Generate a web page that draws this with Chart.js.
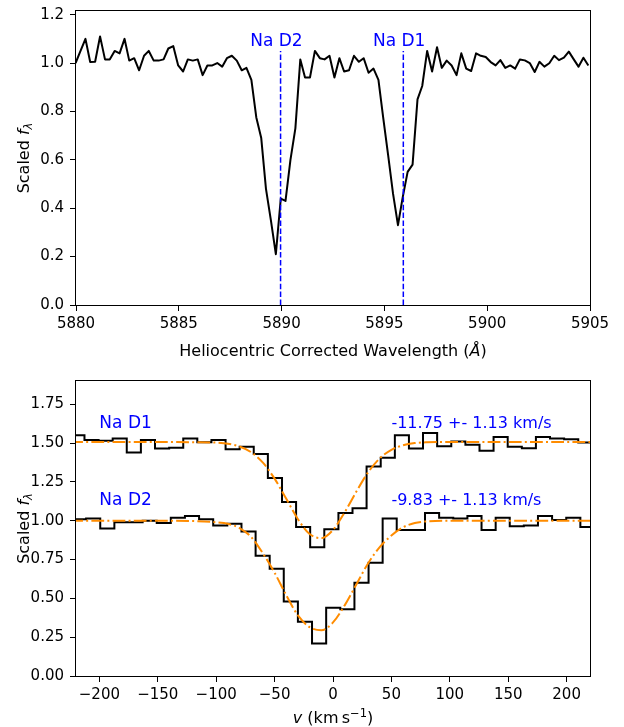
<!DOCTYPE html>
<html>
<head>
<meta charset="utf-8">
<script src="https://cdn.jsdelivr.net/npm/chart.js@4.4.1/dist/chart.umd.min.js"></script>
<style>
  html, body { margin: 0; padding: 0; background: #fff; }
  #wrap { position: relative; width: 624px; height: 727px; }
  canvas { position: absolute; left: 0; }
  #top { top: 0; }
  #bottom { top: 360px; }
</style>
</head>
<body>
<div id="wrap">
  <canvas id="top" width="624" height="360"></canvas>
  <canvas id="bottom" width="624" height="367"></canvas>
</div>
<script>
// top panel: spectrum around the Na D doublet
const wavelength = [
  5879.98, 5880.22, 5880.46, 5880.69, 5880.93, 5881.17, 5881.41, 5881.64, 5881.88, 5882.12,
  5882.36, 5882.59, 5882.83, 5883.07, 5883.31, 5883.54, 5883.78, 5884.02, 5884.26, 5884.49,
  5884.73, 5884.97, 5885.21, 5885.44, 5885.68, 5885.92, 5886.16, 5886.39, 5886.63, 5886.87,
  5887.11, 5887.34, 5887.58, 5887.82, 5888.06, 5888.29, 5888.53, 5888.77, 5889.01, 5889.24,
  5889.48, 5889.72, 5889.96, 5890.19, 5890.43, 5890.67, 5890.91, 5891.14, 5891.38, 5891.62,
  5891.86, 5892.09, 5892.33, 5892.57, 5892.81, 5893.04, 5893.28, 5893.52, 5893.76, 5893.99,
  5894.23, 5894.47, 5894.71, 5894.94, 5895.18, 5895.42, 5895.66, 5895.89, 5896.13, 5896.37,
  5896.61, 5896.84, 5897.08, 5897.32, 5897.56, 5897.79, 5898.03, 5898.27, 5898.51, 5898.74,
  5898.98, 5899.22, 5899.46, 5899.69, 5899.93, 5900.17, 5900.41, 5900.64, 5900.88, 5901.12,
  5901.36, 5901.59, 5901.83, 5902.07, 5902.31, 5902.54, 5902.78, 5903.02, 5903.26, 5903.49,
  5903.73, 5903.97, 5904.21, 5904.44, 5904.68, 5904.92
];
const flux = [
  1.00, 1.05, 1.10, 1.004, 1.005, 1.11, 1.015, 1.015, 1.05, 1.04,
  1.10, 1.01, 1.02, 0.97, 1.03, 1.05, 1.01, 1.01, 1.015, 1.06,
  1.07, 0.99, 0.965, 1.015, 1.01, 1.015, 0.95, 0.99, 0.99, 1.00,
  0.985, 1.02, 1.03, 1.01, 0.97, 0.98, 0.93, 0.775, 0.69, 0.48,
  0.35, 0.21, 0.44, 0.43, 0.60, 0.73, 1.015, 0.94, 0.94, 1.05,
  1.02, 1.015, 1.03, 0.94, 1.02, 0.965, 0.97, 1.03, 1.005, 1.02,
  0.96, 0.977, 0.93, 0.775, 0.62, 0.46, 0.33, 0.445, 0.55, 0.58,
  0.85, 0.905, 1.05, 0.965, 1.065, 0.98, 1.01, 0.99, 0.95, 1.04,
  0.977, 0.967, 1.04, 1.03, 1.025, 1.004, 0.99, 1.012, 0.98, 0.99,
  0.977, 1.015, 1.011, 1.00, 0.963, 1.005, 0.985, 0.999, 1.03, 1.012,
  1.022, 1.047, 1.015, 0.985, 1.022, 0.99
];
const lineNames = ['Na D2', 'Na D1'];
const lineWaves = [5889.95, 5895.92];
const lineTop = 1.05;
const waveTicks = [5880, 5885, 5890, 5895, 5900, 5905];
const fluxTicksTop = [0, 0.2, 0.4, 0.6, 0.8, 1.0, 1.2];

// bottom panel: velocity space, D1 shifted up by 0.5
const velD1 = [
  -230.9, -218.8, -206.7, -194.6, -182.6, -170.5, -158.4, -146.3, -134.2, -122.2,
  -110.1, -98.0, -85.9, -73.9, -61.8, -49.7, -37.6, -25.6, -13.5, -1.4,
  10.7, 22.7, 34.8, 46.9, 59.0, 71.0, 83.1, 95.2, 107.3, 119.4,
  131.4, 143.5, 155.6, 167.7, 179.7, 191.8, 203.9, 216.0, 228.0
];
const fluxD1 = [
  1.44, 1.55, 1.52, 1.515, 1.53, 1.44, 1.52, 1.465, 1.47, 1.53,
  1.505, 1.52, 1.46, 1.477, 1.43, 1.275, 1.12, 0.96, 0.83, 0.945,
  1.05, 1.08, 1.35, 1.405, 1.55, 1.465, 1.565, 1.48, 1.51, 1.49,
  1.45, 1.54, 1.477, 1.467, 1.54, 1.53, 1.525, 1.504, 1.49
];
const velD2 = [
  -229.5, -217.4, -205.3, -193.2, -181.1, -169.0, -156.9, -144.9, -132.8, -120.7,
  -108.6, -96.5, -84.4, -72.3, -60.2, -48.2, -36.1, -24.0, -11.9, 0.2,
  12.3, 24.4, 36.5, 48.5, 60.6, 72.7, 84.8, 96.9, 109.0, 121.1,
  133.2, 145.3, 157.3, 169.4, 181.5, 193.6, 205.7, 217.8, 229.9
];
const fluxD2 = [
  1.015, 1.01, 1.015, 0.95, 0.99, 0.99, 1.00, 0.985, 1.02, 1.03,
  1.01, 0.97, 0.98, 0.93, 0.775, 0.69, 0.48, 0.35, 0.21, 0.44,
  0.43, 0.60, 0.73, 1.015, 0.94, 0.94, 1.05, 1.02, 1.015, 1.03,
  0.94, 1.02, 0.965, 0.97, 1.03, 1.005, 1.02, 0.96, 0.977
];
const fitVel = [-225, -150, -120, -100, -90, -80, -70, -60, -50, -40, -30, -20, -10,
  0, 10, 20, 30, 40, 50, 60, 70, 80, 100, 150, 225];
const fitD1 = [1.507, 1.507, 1.506, 1.503, 1.496, 1.478, 1.441, 1.374, 1.271, 1.141, 1.01, 0.914, 0.888,
  0.941, 1.054, 1.188, 1.311, 1.402, 1.457, 1.486, 1.50, 1.505, 1.507, 1.507, 1.507];
const fitD2 = [1.0, 1.0, 0.998, 0.99, 0.98, 0.953, 0.895, 0.79, 0.665, 0.52, 0.39, 0.315, 0.295,
  0.345, 0.455, 0.59, 0.725, 0.83, 0.905, 0.958, 0.985, 0.996, 1.0, 1.0, 1.0];
const fitLabels = ['-11.75 +- 1.13 km/s', '-9.83 +- 1.13 km/s'];
const velTicks = [-200, -150, -100, -50, 0, 50, 100, 150, 200];
const fluxTicksBottom = [0, 0.25, 0.5, 0.75, 1.0, 1.25, 1.5, 1.75];

const FONT = '"DejaVu Sans", sans-serif';
const BLUE = '#0000ff';
const ORANGE = '#ff8c00';

Chart.defaults.color = '#000';
Chart.defaults.font.family = FONT;

function pts(xs, ys) {
  return xs.map((x, i) => ({ x: x, y: ys[i] }));
}

function axis(min, max, ticks, fmt, isX, size) {
  return {
    type: 'linear', min: min, max: max,
    afterBuildTicks: s => { s.ticks = ticks.map(v => ({ value: v })); },
    afterFit: s => {
      if (isX) { s.height = size; s.paddingLeft = 0; s.paddingRight = 0; }
      else { s.width = size; s.paddingTop = 0; s.paddingBottom = 0; }
    },
    ticks: { callback: fmt, font: { size: 15 }, color: '#000', padding: isX ? 4 : 6,
             autoSkip: false, maxRotation: 0 },
    grid: { drawOnChartArea: false, drawTicks: true, tickLength: 6, color: '#000' },
    border: { display: false }
  };
}

// mixed style text (italic / sub / superscripts)
function drawRuns(ctx, runs, x, y, align) {
  let w = 0;
  runs.forEach(r => {
    ctx.font = (r.it ? 'italic ' : '') + (r.size || 16) + 'px ' + FONT;
    r.w = ctx.measureText(r.t).width;
    w += r.w;
  });
  let cx = align === 'center' ? x - w / 2 : x;
  runs.forEach(r => {
    ctx.font = (r.it ? 'italic ' : '') + (r.size || 16) + 'px ' + FONT;
    ctx.fillText(r.t, cx, y + (r.dy || 0));
    cx += r.w;
  });
}

function drawYTitle(ctx, area) {
  ctx.save();
  ctx.translate(28.5, (area.top + area.bottom) / 2);
  ctx.rotate(-Math.PI / 2);
  ctx.textBaseline = 'alphabetic';
  ctx.textAlign = 'left';
  ctx.fillStyle = '#000';
  drawRuns(ctx, [
    { t: 'Scaled ' },
    { t: 'f', it: true },
    { t: '\u03bb', it: true, size: 11.5, dy: 3.5 }
  ], 0, 0, 'center');
  ctx.restore();
}

const framePlugin = {
  id: 'frame',
  afterDraw(chart) {
    const a = chart.chartArea, ctx = chart.ctx;
    ctx.save();
    ctx.strokeStyle = '#000';
    ctx.lineWidth = 1;
    ctx.strokeRect(a.left - 0.5, a.top - 0.5, a.right - a.left + 1, a.bottom - a.top + 1);
    ctx.restore();
  }
};

const topText = {
  id: 'topText',
  afterDraw(chart) {
    const ctx = chart.ctx, xs = chart.scales.x, ys = chart.scales.y, a = chart.chartArea;
    ctx.save();
    ctx.fillStyle = BLUE;
    ctx.font = '17px ' + FONT;
    ctx.textAlign = 'center';
    ctx.textBaseline = 'alphabetic';
    lineWaves.forEach((w, i) => {
      ctx.fillText(lineNames[i], xs.getPixelForValue(w - 0.2), ys.getPixelForValue(1.07));
    });
    ctx.fillStyle = '#000';
    ctx.textAlign = 'left';
    drawRuns(ctx, [
      { t: 'Heliocentric Corrected Wavelength (' },
      { t: '\u00c5', it: true },
      { t: ')' }
    ], (a.left + a.right) / 2, 356, 'center');
    ctx.restore();
    drawYTitle(ctx, a);
  }
};

const bottomText = {
  id: 'bottomText',
  afterDraw(chart) {
    const ctx = chart.ctx, xs = chart.scales.x, ys = chart.scales.y, a = chart.chartArea;
    ctx.save();
    ctx.fillStyle = BLUE;
    ctx.font = '17px ' + FONT;
    ctx.textAlign = 'left';
    ctx.textBaseline = 'alphabetic';
    ctx.fillText('Na D1', xs.getPixelForValue(-200), ys.getPixelForValue(1.6));
    ctx.fillText('Na D2', xs.getPixelForValue(-200), ys.getPixelForValue(1.1));
    ctx.font = '16px ' + FONT;
    ctx.fillText(fitLabels[0], xs.getPixelForValue(50), ys.getPixelForValue(1.6));
    ctx.fillText(fitLabels[1], xs.getPixelForValue(50), ys.getPixelForValue(1.1));
    ctx.fillStyle = '#000';
    drawRuns(ctx, [
      { t: 'v', it: true },
      { t: ' (km\u2009s' },
      { t: '\u22121', size: 11.5, dy: -6.5 },
      { t: ')' }
    ], (a.left + a.right) / 2, 363, 'center');
    ctx.restore();
    drawYTitle(ctx, a);
  }
};

new Chart(document.getElementById('top'), {
  type: 'line',
  data: {
    datasets: [
      ...lineWaves.map(w => ({
        data: [{ x: w, y: 0 }, { x: w, y: lineTop }],
        borderColor: BLUE, borderWidth: 1.5, borderDash: [5.5, 2.4], pointRadius: 0
      })),
      {
        data: pts(wavelength, flux),
        borderColor: '#000', borderWidth: 2, pointRadius: 0, borderJoinStyle: 'round'
      }
    ]
  },
  options: {
    responsive: false, animation: false, devicePixelRatio: 1,
    layout: { padding: { top: 11, right: 34, left: 0, bottom: 0 } },
    plugins: { legend: { display: false }, tooltip: { enabled: false } },
    scales: {
      x: axis(5880, 5905, waveTicks, v => String(v), true, 55),
      y: axis(0, 1.215, fluxTicksTop, v => v.toFixed(1), false, 76)
    }
  },
  plugins: [framePlugin, topText]
});

new Chart(document.getElementById('bottom'), {
  type: 'line',
  data: {
    datasets: [
      { data: pts(fitVel, fitD1), borderColor: ORANGE, borderWidth: 2,
        borderDash: [12.8, 3.2, 2, 3.2], pointRadius: 0, cubicInterpolationMode: 'monotone', order: 0 },
      { data: pts(fitVel, fitD2), borderColor: ORANGE, borderWidth: 2,
        borderDash: [12.8, 3.2, 2, 3.2], pointRadius: 0, cubicInterpolationMode: 'monotone', order: 0 },
      { data: pts(velD1, fluxD1), borderColor: '#000', borderWidth: 2, pointRadius: 0,
        stepped: 'middle', order: 1 },
      { data: pts(velD2, fluxD2), borderColor: '#000', borderWidth: 2, pointRadius: 0,
        stepped: 'middle', order: 1 }
    ]
  },
  options: {
    responsive: false, animation: false, devicePixelRatio: 1,
    layout: { padding: { top: 21, right: 34, left: 0, bottom: 0 } },
    plugins: { legend: { display: false }, tooltip: { enabled: false } },
    scales: {
      x: axis(-220, 220, velTicks, v => v < 0 ? '\u2212' + (-v) : String(v), true, 51),
      y: axis(0, 1.9, fluxTicksBottom, v => v.toFixed(2), false, 76)
    }
  },
  plugins: [framePlugin, bottomText]
});
</script>
</body>
</html>
